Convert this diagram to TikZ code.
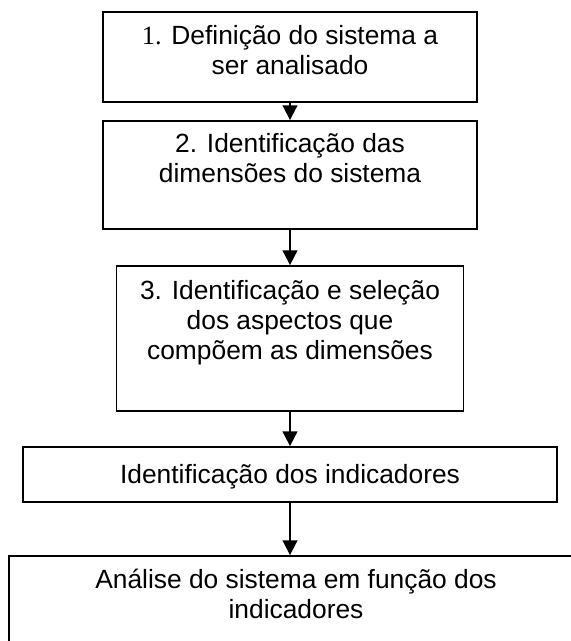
\documentclass[tikz,border=0pt]{standalone}
\usepackage{fontspec}
\setmainfont{Liberation Sans}
\newfontfamily\timesfont{Liberation Serif}
\usetikzlibrary{arrows.meta,calc,positioning}

\begin{document}
\begin{tikzpicture}[
    box/.style={draw, line width=1.7pt, rectangle, inner sep=0pt},
    txt/.style={align=center, inner sep=0pt, anchor=north,
      font=\fontsize{25}{28.45}\selectfont, execute at begin node=\strut},
    link/.style={line width=1.7pt, -{Triangle[length=14pt,width=14pt]}}]
  \useasboundingbox (0,0) rectangle (19.033,-21.367);
  \clip (0,0) rectangle (19.033,-21.367);

  \node[box, minimum width=12.467cm, minimum height=3cm] at (9.667,-1.9) (def) {};
  \node[box, minimum width=12.467cm, minimum height=3.6cm] at (9.667,-5.833) (dim) {};
  \node[box, minimum width=11.567cm, minimum height=4.833cm] at (9.667,-11.283) (asp) {};
  \node[box, minimum width=17.8cm, minimum height=1.833cm] at (9.667,-15.817) (ind) {};
  \node[box, minimum width=19.133cm, minimum height=2.933cm] at (9.867,-20.0) (ana) {};

  \node[txt] at ($(def.north)+(0,-0.47)$) (defT) {{\timesfont 1.} Definição do sistema a\\ser analisado};
  \node[txt] at ($(dim.north)+(0,-0.45)$) (dimT) {2. Identificação das\\dimensões do sistema};
  \node[txt] at ($(asp.north)+(0,-0.5)$) (aspT) {3. Identificação e seleção\\dos aspectos que\\compõem as dimensões};
  \node[txt] at ($(ind.north)+(0,-0.53)$) (indT) {Identificação dos indicadores};
  \node[txt] at ($(ana.north)+(0,-0.45)$) (anaT) {Análise do sistema em função dos\\indicadores};

  \draw[link] (def.south) -- (dim.north);
  \draw[link] (dim.south) -- (asp.north);
  \draw[link] (asp.south) -- (ind.north);
  \draw[link] (ind.south) -- (ind.south |- ana.north);

\end{tikzpicture}
\end{document}
